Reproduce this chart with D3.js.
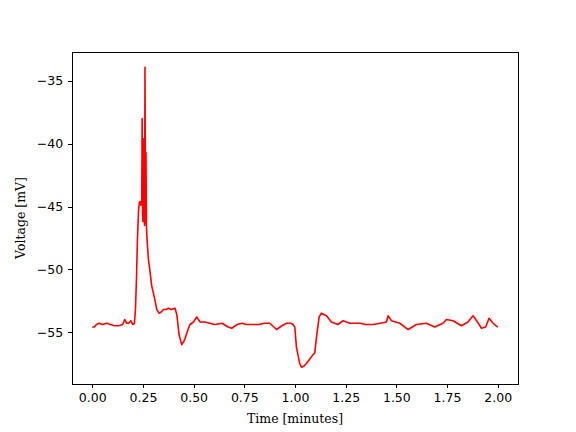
<!DOCTYPE html>
<html lang="en">
	<head>
		<meta charset="UTF-8">
		<title>Voltage trace</title>
		<script src="https://cdn.jsdelivr.net/npm/d3@7"></script>
		<style type="text/css">
		body { margin:0; background:#fff; }
		.axis path, .axis line { stroke:#000; stroke-width:1px; shape-rendering:crispEdges; }
		.axis text { font-family:"DejaVu Sans", sans-serif; font-size:12.5px; fill:#000; }
		.label { font-family:"DejaVu Serif", serif; font-size:12.5px; fill:#000; }
		</style>
	</head>
	<body>
		<div id="chart"></div>
	<script type="text/javascript">
		// time in minutes
		var times = [
			0.000, 0.010, 0.020, 0.035, 0.050, 0.070, 0.090, 0.110, 0.130, 0.150,
			0.160, 0.170, 0.180, 0.190, 0.200, 0.208, 0.213, 0.218, 0.223, 0.228,
			0.232, 0.236, 0.240, 0.244, 0.246, 0.248, 0.250, 0.252, 0.254, 0.256,
			0.258, 0.260, 0.262, 0.264, 0.265, 0.267, 0.270, 0.277, 0.285, 0.293,
			0.300, 0.307, 0.318, 0.329, 0.340, 0.351, 0.365, 0.376, 0.390, 0.408,
			0.417, 0.428, 0.441, 0.450, 0.458, 0.470, 0.482, 0.499, 0.515, 0.532,
			0.556, 0.580, 0.604, 0.640, 0.670, 0.688, 0.715, 0.737, 0.760, 0.787,
			0.820, 0.850, 0.876, 0.909, 0.935, 0.958, 0.980, 0.990, 0.999, 1.007,
			1.023, 1.032, 1.045, 1.056, 1.075, 1.089, 1.097, 1.106, 1.119, 1.130,
			1.155, 1.180, 1.212, 1.237, 1.270, 1.320, 1.350, 1.385, 1.420, 1.451,
			1.459, 1.476, 1.517, 1.558, 1.599, 1.648, 1.689, 1.730, 1.747, 1.780,
			1.821, 1.853, 1.878, 1.900, 1.920, 1.941, 1.957, 1.977, 2.000
		];
		// membrane voltage in mV
		var voltages = [
			-54.6, -54.6, -54.4, -54.3, -54.4, -54.3, -54.4, -54.5, -54.5, -54.4,
			-54.0, -54.3, -54.3, -54.1, -54.4, -54.3, -53.2, -50.8, -47.5, -45.4,
			-44.7, -44.6, -44.9, -44.7, -38.0, -45.5, -46.2, -45.0, -39.6, -46.0,
			-46.5, -33.9, -44.0, -46.3, -40.7, -46.5, -47.6, -49.2, -50.2, -51.3,
			-51.8, -52.3, -53.2, -53.5, -53.4, -53.2, -53.2, -53.1, -53.2, -53.1,
			-53.6, -55.2, -56.0, -55.8, -55.5, -54.9, -54.4, -54.2, -53.8, -54.2,
			-54.2, -54.3, -54.4, -54.3, -54.6, -54.7, -54.4, -54.3, -54.4, -54.4,
			-54.4, -54.3, -54.3, -54.8, -54.5, -54.3, -54.3, -54.4, -54.6, -56.2,
			-57.5, -57.8, -57.7, -57.5, -57.1, -56.8, -56.7, -55.4, -53.8, -53.5,
			-53.7, -54.2, -54.4, -54.1, -54.3, -54.3, -54.4, -54.4, -54.3, -54.2,
			-53.7, -54.1, -54.3, -54.8, -54.4, -54.3, -54.6, -54.3, -54.0, -54.1,
			-54.5, -54.2, -53.7, -54.2, -54.7, -54.6, -53.9, -54.3, -54.6
		];
		var xTicks = [0, 0.25, 0.5, 0.75, 1.0, 1.25, 1.5, 1.75, 2.0];
		var yTicks = [-35, -40, -45, -50, -55];

		var width = 576, height = 432;
		var padL = 72, padR = 518, padT = 52, padB = 384;

		var data = times.map(function(t, i){ return {t:t, v:voltages[i]}; });

		var Xscale = d3.scaleLinear().domain([-0.1, 2.1]).range([padL, padR]);
		var Yscale = d3.scaleLinear().domain([-59.14, -32.69]).range([padB, padT]);

		var svg = d3.select("#chart").append("svg")
			.attr("width", width)
			.attr("height", height);

		svg.append("defs").append("clipPath").attr("id", "clip")
			.append("rect")
			.attr("x", padL).attr("y", padT)
			.attr("width", padR - padL).attr("height", padB - padT);

		// trace
		var line = d3.line()
			.x(function(d){ return Xscale(d.t); })
			.y(function(d){ return Yscale(d.v); });

		svg.append("path")
			.attr("d", line(data))
			.attr("clip-path", "url(#clip)")
			.attr("fill", "none")
			.attr("stroke", "#ff0000")
			.attr("stroke-width", 1.6)
			.attr("stroke-linejoin", "round");

		// axes
		var Xaxis = d3.axisBottom(Xscale).tickValues(xTicks)
			.tickSize(4.4).tickPadding(4.4)
			.tickFormat(function(d){ return d.toFixed(2); });
		var Yaxis = d3.axisLeft(Yscale).tickValues(yTicks)
			.tickSize(4.4).tickPadding(4.4)
			.tickFormat(function(d){ return "\u2212" + Math.abs(d); });

		svg.append("g").attr("class", "axis")
			.attr("transform", "translate(0," + padB + ")")
			.call(Xaxis)
			.call(function(g){ g.select(".domain").remove(); });
		svg.append("g").attr("class", "axis")
			.attr("transform", "translate(" + padL + ",0)")
			.call(Yaxis)
			.call(function(g){ g.select(".domain").remove(); });

		// frame
		svg.append("rect")
			.attr("x", padL + 0.5).attr("y", padT + 0.5)
			.attr("width", padR - padL).attr("height", padB - padT)
			.attr("fill", "none")
			.attr("stroke", "#000")
			.attr("stroke-width", 1);

		// labels
		svg.append("text").attr("class", "label")
			.attr("x", (padL + padR) / 2).attr("y", 423)
			.attr("text-anchor", "middle")
			.text("Time [minutes]");
		svg.append("text").attr("class", "label")
			.attr("transform", "translate(25," + (padT + padB) / 2 + ") rotate(-90)")
			.attr("text-anchor", "middle")
			.text("Voltage [mV]");
	</script>
	</body>
</html>
